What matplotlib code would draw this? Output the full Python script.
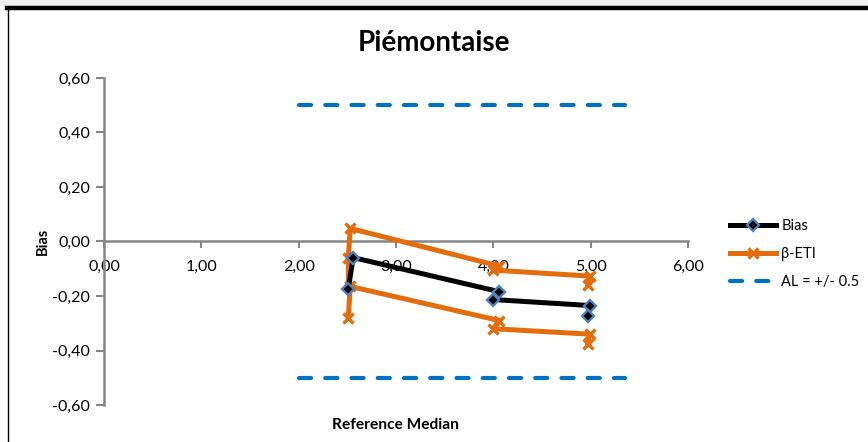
import numpy as np
import matplotlib
matplotlib.use("Agg")
import matplotlib.pyplot as plt
from matplotlib.ticker import FuncFormatter
from matplotlib.lines import Line2D
from matplotlib.patches import Rectangle

plt.rcParams['font.family'] = ['Lato', 'DejaVu Sans']

# data
bias_x = [2.51, 2.56, 4.06, 4.00, 4.99, 4.97]
bias_y = [-0.173, -0.059, -0.184, -0.213, -0.235, -0.272]

# upper bound starts where the lower bound's second point sits (line joins them)
eti_up_x = [2.51, 2.51, 2.53, 4.06, 4.00, 4.99, 4.97]
eti_up_y = [-0.165, -0.060, 0.048, -0.090, -0.105, -0.127, -0.160]
eti_lo_x = [2.51, 2.53, 4.06, 4.00, 4.99, 4.97]
eti_lo_y = [-0.280, -0.165, -0.290, -0.320, -0.340, -0.375]

al_x = [2.0, 5.35]
al_level = 0.5

xticks = [0, 1, 2, 3, 4, 5, 6]
yticks = [-0.6, -0.4, -0.2, 0.0, 0.2, 0.4, 0.6]

axis_grey = '#868686'
orange = '#E46C0A'
blue_al = '#0070C0'

fig = plt.figure(figsize=(8.68, 4.42), dpi=100)

# chart frame like the spreadsheet export
fig.patches.append(Rectangle((0, 1 - 6/442), 1, 6/442, transform=fig.transFigure,
                             facecolor='#f0f0f0', edgecolor='none', zorder=0))
fig.lines.append(Line2D([7/868, 1], [1 - 8/442, 1 - 8/442], transform=fig.transFigure,
                        color='black', lw=3.2))
fig.lines.append(Line2D([7.5/868, 7.5/868], [0, 1 - 8/442], transform=fig.transFigure,
                        color='black', lw=1.0))

ax = fig.add_axes([104/868, 1 - 405/442, 584/868, 327/442])

ax.plot(eti_up_x, eti_up_y, color=orange, lw=3.6, marker='x', ms=7.5, mew=2.4,
        markevery=list(range(1, len(eti_up_x))), label='β-ETI', zorder=3)
ax.plot(eti_lo_x, eti_lo_y, color=orange, lw=3.6, marker='x', ms=7.5, mew=2.4, zorder=3)
ax.plot(bias_x, bias_y, color='black', lw=3.6, marker='D', ms=5.8,
        mfc='black', mec='#4F81BD', mew=1.7, label='Bias', zorder=4)
ax.plot(al_x, [al_level, al_level], color=blue_al, lw=3.0,
        linestyle=(0, (2.9, 3.4)), dash_capstyle='round', label='AL = +/- 0.5', zorder=2)
ax.plot(al_x, [-al_level, -al_level], color=blue_al, lw=3.0,
        linestyle=(0, (2.9, 3.4)), dash_capstyle='round', zorder=2)

ax.set_xlim(0, 6)
ax.set_ylim(-0.6, 0.6)
ax.set_xticks(xticks)
ax.set_yticks(yticks)
comma = FuncFormatter(lambda v, p: ('%.2f' % v).replace('.', ','))
ax.xaxis.set_major_formatter(comma)
ax.yaxis.set_major_formatter(comma)

for s in ['top', 'right']:
    ax.spines[s].set_visible(False)
ax.spines['bottom'].set_position(('data', 0))
ax.spines['bottom'].set_color(axis_grey)
ax.spines['left'].set_color(axis_grey)
ax.spines['bottom'].set_linewidth(1.8)
ax.spines['left'].set_linewidth(1.8)
ax.tick_params(axis='x', direction='out', length=5, width=1.5, color=axis_grey,
               labelsize=11.5, pad=8)
ax.tick_params(axis='y', direction='out', length=6, width=1.5, color=axis_grey,
               labelsize=11.5, pad=4)

ax.set_xlabel('Reference Median', fontsize=11.2, fontweight='bold')
ax.xaxis.set_label_coords(0.5, -0.04)
ax.set_ylabel('Bias', fontsize=10.5, fontweight='bold')
ax.yaxis.set_label_coords(-0.093, 0.5)

fig.text(0.5, 1 - 43/442, 'Piémontaise', ha='center', va='center',
         fontsize=20, fontweight='bold')

h, l = ax.get_legend_handles_labels()
order = [1, 0, 2]
ax.legend([h[i] for i in order], [l[i] for i in order], loc='center left',
          bbox_to_anchor=(723/868, 1 - 254/442), bbox_transform=fig.transFigure,
          frameon=False, fontsize=10.5, handlelength=3.1, handletextpad=0.4,
          labelspacing=0.95, borderpad=0)

fig.savefig('out.png', dpi=100)
